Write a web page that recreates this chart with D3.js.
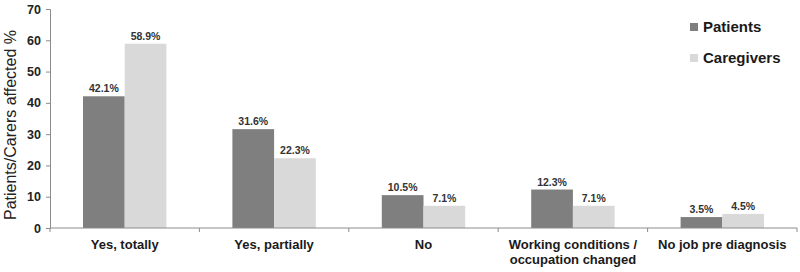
<!DOCTYPE html>
<html><head><meta charset="utf-8">
<script src="https://cdn.jsdelivr.net/npm/d3@7"></script>
<style>body{margin:0;background:#fff;}svg{display:block;font-family:Arial,"Liberation Sans",sans-serif;}</style>
</head><body>
<svg id="c" width="800" height="272"></svg>
<script>
const categories = ["Yes, totally", "Yes, partially", "No", "Working conditions /\noccupation changed", "No job pre diagnosis"];
const seriesNames = ["Patients", "Caregivers"];
const patients = [42.1, 31.6, 10.5, 12.3, 3.5];
const caregivers = [58.9, 22.3, 7.1, 7.1, 4.5];
const yTicks = [0, 10, 20, 30, 40, 50, 60, 70];
const colors = ["#7f7f7f", "#d9d9d9"];

const svg = d3.select("#c");
const x0 = d3.scaleBand().domain(categories).range([50, 797]).paddingInner(0).paddingOuter(0);
const x1 = d3.scaleBand().domain(seriesNames).range([33, x0.bandwidth() - 33]).padding(0);
const y = d3.scaleLinear().domain([0, 70]).range([228, 9]);
const series = [patients, caregivers];

// y axis
const ya = svg.append("g").attr("transform", "translate(50,0)")
  .call(d3.axisLeft(y).tickValues(yTicks).tickSize(4).tickPadding(5));
ya.select(".domain").attr("stroke", "#8c8c8c");
ya.selectAll(".tick line").attr("stroke", "#8c8c8c");
ya.selectAll(".tick text").attr("font-size", 12.5).attr("font-weight", "bold").attr("fill", "#222");

// bars
categories.forEach((c, i) => {
  series.forEach((s, j) => {
    const v = s[i];
    const bx = x0(c) + x1(seriesNames[j]);
    svg.append("rect").attr("x", bx).attr("y", y(v)).attr("width", x1.bandwidth()).attr("height", y(0) - y(v)).attr("fill", colors[j]);
    svg.append("text").attr("x", bx + x1.bandwidth() / 2).attr("y", y(v) - 4)
      .attr("text-anchor", "middle").attr("font-size", 10.5).attr("font-weight", "bold").attr("fill", "#333")
      .text(v.toFixed(1) + "%");
  });
});

// x axis
const xa = svg.append("g").attr("transform", "translate(0,228)");
xa.append("line").attr("x1", 50).attr("x2", 797).attr("stroke", "#8c8c8c");
const bounds = categories.map(c => x0(c)).concat([797]);
bounds.forEach(b => xa.append("line").attr("x1", b).attr("x2", b).attr("y1", 0).attr("y2", 4).attr("stroke", "#8c8c8c"));
categories.forEach(c => {
  const lines = c.split("\n");
  const t = xa.append("text").attr("text-anchor", "middle").attr("font-size", 13).attr("font-weight", "bold").attr("fill", "#1a1a1a");
  lines.forEach((l, k) => t.append("tspan").attr("x", x0(c) + x0.bandwidth() / 2).attr("y", 21 + k * 15).text(l));
});

// y title
svg.append("text").attr("transform", "translate(16," + 125 + ") rotate(-90)")
  .attr("text-anchor", "middle").attr("font-size", 16).attr("fill", "#222").text("Patients/Carers affected %");

// legend
seriesNames.forEach((n, j) => {
  const ly = 27 + j * 31;
  svg.append("rect").attr("x", 690).attr("y", ly - 4).attr("width", 8).attr("height", 8).attr("fill", colors[j]);
  svg.append("text").attr("x", 703).attr("y", ly + 5).attr("font-size", 15).attr("font-weight", "bold").attr("fill", "#1a1a1a").text(n);
});
</script>
</body></html>
